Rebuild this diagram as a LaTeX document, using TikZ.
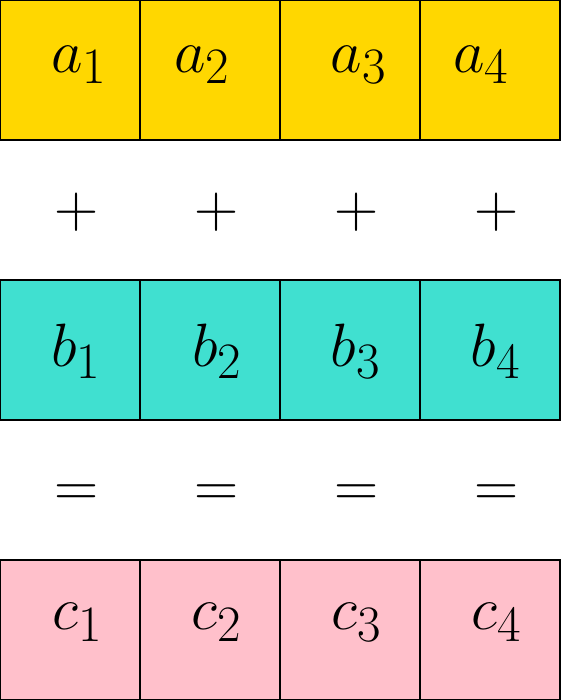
\documentclass[tikz,border=0pt]{standalone}
\usepackage{amsmath,amssymb}
\usepackage{tikz}

\definecolor{cellA}{HTML}{FFD700}
\definecolor{cellB}{HTML}{40E0D0}
\definecolor{cellC}{HTML}{FFC0CB}

\begin{document}
\begin{tikzpicture}[
    cell/.style={draw, line width=0.8pt, minimum size=2cm, inner sep=0pt, outer sep=0pt},
    lbl/.style={anchor=base, inner sep=0pt, font=\Huge},
    sym/.style={inner sep=0pt, font=\Huge}]
    \useasboundingbox (0,0) rectangle (8,10);

    % top row
    \node[cell, fill=cellA] (a1) at (1,9) {};
    \node[cell, fill=cellA] (a2) at (3,9) {};
    \node[cell, fill=cellA] (a3) at (5,9) {};
    \node[cell, fill=cellA] (a4) at (7,9) {};
    \node[lbl] (la1) at (1.136,8.971) {$a_1$};
    \node[lbl] (la2) at (2.893,8.971) {$a_2$};
    \node[lbl] (la3) at (5.129,8.971) {$a_3$};
    \node[lbl] (la4) at (6.879,8.971) {$a_4$};

    \node[sym] (p1) at (1.1,6.971) {$+$};
    \node[sym] (p2) at (3.1,6.971) {$+$};
    \node[sym] (p3) at (5.09,6.971) {$+$};
    \node[sym] (p4) at (7.09,6.971) {$+$};

    % middle row
    \node[cell, fill=cellB] (b1) at (1,5) {};
    \node[cell, fill=cellB] (b2) at (3,5) {};
    \node[cell, fill=cellB] (b3) at (5,5) {};
    \node[cell, fill=cellB] (b4) at (7,5) {};
    \node[lbl] (lb1) at (1.093,4.757) {$b_1$};
    \node[lbl] (lb2) at (3.107,4.757) {$b_2$};
    \node[lbl] (lb3) at (5.086,4.757) {$b_3$};
    \node[lbl] (lb4) at (7.086,4.757) {$b_4$};

    \node[lbl] (e1) at (1.1,2.771) {$=$};
    \node[lbl] (e2) at (3.1,2.771) {$=$};
    \node[lbl] (e3) at (5.09,2.771) {$=$};
    \node[lbl] (e4) at (7.09,2.771) {$=$};

    % bottom row
    \node[cell, fill=cellC] (c1) at (1,1) {};
    \node[cell, fill=cellC] (c2) at (3,1) {};
    \node[cell, fill=cellC] (c3) at (5,1) {};
    \node[cell, fill=cellC] (c4) at (7,1) {};
    \node[lbl] (lc1) at (1.107,1) {$c_1$};
    \node[lbl] (lc2) at (3.1,1) {$c_2$};
    \node[lbl] (lc3) at (5.093,1) {$c_3$};
    \node[lbl] (lc4) at (7.093,1) {$c_4$};
\end{tikzpicture}
\end{document}
